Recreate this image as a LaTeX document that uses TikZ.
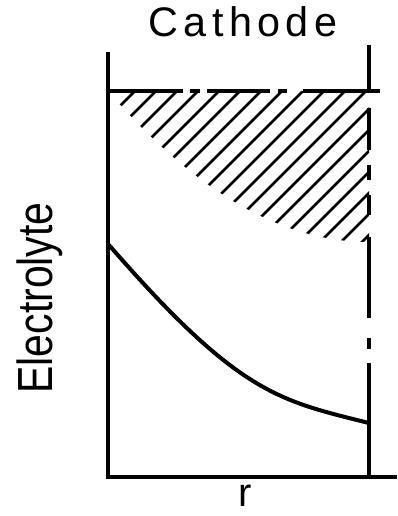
\documentclass[tikz,border=0pt]{standalone}
\usepackage{fontspec}
\setmainfont{Liberation Sans}
\begin{document}
\begin{tikzpicture}[x=0.75pt, y=-0.75pt,
  axis/.style={line width=2.6pt, line cap=butt},
  hatch/.style={line width=2pt},
  curve/.style={line width=3pt}]
  \useasboundingbox (0,0) rectangle (397,516);
  % frame
  \draw[axis] (108,52) -- (108,477) -- (397,477);
  \foreach \a/\b in {45/91,108/150,165/180,195/215,237/318,338/349,363/477}
    \draw[axis] (369,\a) -- (369,\b);
  \foreach \a/\b in {108/183,190/200,207/270,278/287,303/380}
    \draw[axis] (\a,91) -- (\b,91);
  % hatched zone under the cathode
  \begin{scope}
    \clip (108,91) .. controls (195,191.7) and (282,242) .. (369,242) -- (369,91) -- cycle;
    \foreach \c in {226,247,...,611} \draw[hatch] (\c-260,260) -- (\c-80,80);
  \end{scope}
  % profile
  \draw[curve] (109,245) .. controls (239,394.5) and (279,400.5) .. (369,423);
  % labels
  \node[anchor=base, font=\fontsize{31}{31}\selectfont\addfontfeature{LetterSpace=13}] (cathode) at (243,37) {Cathode};
  \node[anchor=base, rotate=90, font=\fontsize{37}{37}\selectfont] (electrolyte) at (52,298) {\scalebox{0.83}[1]{Electrolyte}};
  \node[anchor=base, inner sep=0pt, font=\fontsize{30}{30}\selectfont] (r) at (245,506) {r};
\end{tikzpicture}
\end{document}
